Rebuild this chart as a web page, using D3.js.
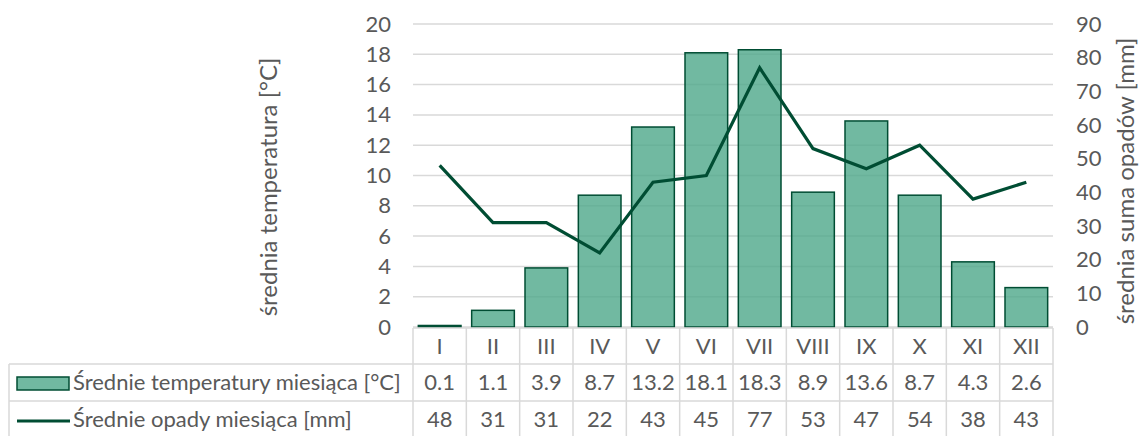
<!DOCTYPE html>
<html>
<head>
<meta charset="utf-8">
<script src="https://cdn.jsdelivr.net/npm/d3@7"></script>
<style>
  body { margin: 0; background: #fff; }
  svg text { font-family: Lato, "Open Sans", sans-serif; fill: #595959; }
</style>
</head>
<body>
<div id="chart"></div>
<script>
const months = ["I", "II", "III", "IV", "V", "VI", "VII", "VIII", "IX", "X", "XI", "XII"];
const temps = [0.1, 1.1, 3.9, 8.7, 13.2, 18.1, 18.3, 8.9, 13.6, 8.7, 4.3, 2.6];
const precip = [48, 31, 31, 22, 43, 45, 77, 53, 47, 54, 38, 43];
const tempTicks = [0, 2, 4, 6, 8, 10, 12, 14, 16, 18, 20];
const precipTicks = [0, 10, 20, 30, 40, 50, 60, 70, 80, 90];
const tempLabel = "Średnie temperatury miesiąca [°C]";
const precipLabel = "Średnie opady miesiąca [mm]";

const W = 1141, H = 436;
const plotL = 413, plotR = 1053, plotT = 24, plotB = 327;
const rowY = [328, 364, 401, 438];
const grid = "#d9d9d9";
const barFill = "#4da88a";
const lineColor = "#004d33";
const fs = "22px";

const svg = d3.select("#chart").append("svg")
    .attr("width", W)
    .attr("height", H);

const x = d3.scaleBand().domain(months).range([plotL, plotR]).paddingInner(0.2).paddingOuter(0.1);
const xCol = d3.scaleBand().domain(months).range([plotL, plotR]);
const yT = d3.scaleLinear().domain([0, 20]).range([plotB, plotT]);
const yP = d3.scaleLinear().domain([0, 90]).range([plotB, plotT]);

// gridlines
svg.append("g").selectAll("line")
    .data(tempTicks)
    .enter().append("line")
    .attr("x1", plotL).attr("x2", plotR)
    .attr("y1", d => yT(d)).attr("y2", d => yT(d))
    .attr("stroke", grid).attr("stroke-width", 1.5);

// left axis
const axL = svg.append("g")
    .attr("transform", `translate(${plotL},0)`)
    .call(d3.axisLeft(yT).tickValues(tempTicks).tickSize(0).tickPadding(22));
axL.select(".domain").remove();
axL.selectAll("text").style("font-size", fs).attr("fill", "#595959");

// right axis
const axR = svg.append("g")
    .attr("transform", `translate(${plotR},0)`)
    .call(d3.axisRight(yP).tickValues(precipTicks).tickSize(0).tickPadding(23));
axR.select(".domain").remove();
axR.selectAll("text").style("font-size", fs).attr("fill", "#595959");

// axis titles
svg.append("text")
    .attr("transform", "translate(277,187) rotate(-90)")
    .attr("text-anchor", "middle")
    .style("font-size", "24px")
    .text("średnia temperatura [°C]");
svg.append("text")
    .attr("transform", "translate(1134,181) rotate(-90)")
    .attr("text-anchor", "middle")
    .style("font-size", "24px")
    .text("średnia suma opadów [mm]");

// bars
svg.append("g").selectAll("rect")
    .data(temps)
    .enter().append("rect")
    .attr("x", (d, i) => x(months[i]))
    .attr("width", x.bandwidth())
    .attr("y", d => yT(d))
    .attr("height", d => yT(0) - yT(d))
    .attr("fill", barFill).attr("fill-opacity", 0.8)
    .attr("stroke", lineColor).attr("stroke-width", 1.5);

// precipitation line
const line = d3.line()
    .x((d, i) => x(months[i]) + x.bandwidth() / 2)
    .y(d => yP(d));
svg.append("path")
    .datum(precip)
    .attr("d", line)
    .attr("fill", "none")
    .attr("stroke", lineColor)
    .attr("stroke-width", 3.2)
    .attr("stroke-linejoin", "miter");

// data table
const tbl = svg.append("g").attr("stroke", grid).attr("stroke-width", 1.5);
tbl.append("line").attr("x1", plotL).attr("x2", plotR).attr("y1", rowY[0]).attr("y2", rowY[0]);
tbl.append("line").attr("x1", 9).attr("x2", plotR).attr("y1", rowY[1]).attr("y2", rowY[1]);
tbl.append("line").attr("x1", 9).attr("x2", plotR).attr("y1", rowY[2]).attr("y2", rowY[2]);
tbl.append("line").attr("x1", 9).attr("x2", 9).attr("y1", rowY[1]).attr("y2", rowY[3]);
tbl.selectAll(".col")
    .data(months.concat(["end"]))
    .enter().append("line")
    .attr("x1", (d, i) => i < 12 ? xCol(d) : plotR)
    .attr("x2", (d, i) => i < 12 ? xCol(d) : plotR)
    .attr("y1", rowY[0]).attr("y2", rowY[3]);

const fmtT = d3.format(".1f");
const rows = [
    { y: (rowY[0] + rowY[1]) / 2, vals: months },
    { y: (rowY[1] + rowY[2]) / 2, vals: temps.map(fmtT) },
    { y: (rowY[2] + rowY[3]) / 2, vals: precip.map(String) }
];
rows.forEach(r => {
    svg.append("g").selectAll("text")
        .data(r.vals)
        .enter().append("text")
        .attr("x", (d, i) => xCol(months[i]) + xCol.bandwidth() / 2)
        .attr("y", r.y)
        .attr("dy", "0.35em")
        .attr("text-anchor", "middle")
        .style("font-size", fs)
        .text(d => d);
});

// legend keys in table
svg.append("rect")
    .attr("x", 17).attr("y", 377).attr("width", 52).attr("height", 13)
    .attr("fill", barFill).attr("fill-opacity", 0.8)
    .attr("stroke", lineColor).attr("stroke-width", 1.5);
svg.append("text")
    .attr("x", 73).attr("y", (rowY[1] + rowY[2]) / 2).attr("dy", "0.35em")
    .style("font-size", fs)
    .text(tempLabel);
svg.append("line")
    .attr("x1", 17).attr("x2", 70).attr("y1", 421).attr("y2", 421)
    .attr("stroke", lineColor).attr("stroke-width", 3.2);
svg.append("text")
    .attr("x", 73).attr("y", (rowY[2] + rowY[3]) / 2).attr("dy", "0.35em")
    .style("font-size", fs)
    .text(precipLabel);
</script>
</body>
</html>
